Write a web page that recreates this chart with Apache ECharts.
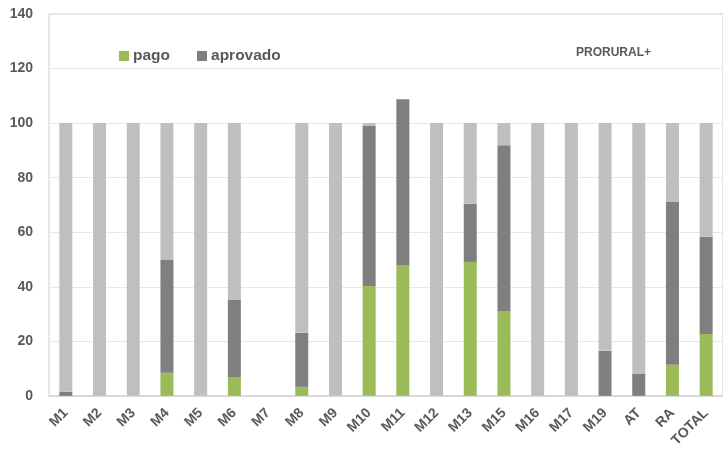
<!DOCTYPE html>
<html>
<head>
<meta charset="utf-8">
<script src="https://cdn.jsdelivr.net/npm/echarts@6/dist/echarts.min.js"></script>
<style>
html,body{margin:0;padding:0;background:#fff;}
#chart{width:723px;height:450px;}
</style>
</head>
<body>
<div id="chart"></div>
<script>
const categories = ['M1','M2','M3','M4','M5','M6','M7','M8','M9','M10','M11','M12','M13','M15','M16','M17','M19','AT','RA','TOTAL'];
const pago      = [0, 0, 0, 8.5, 0, 6.9, 0, 3.3, 0, 40.3, 48.0, 0, 49.1, 31.1, 0, 0, 0, 0, 11.4, 22.7];
const aprovado  = [1.5, 0, 0, 41.5, 0, 28.2, 0, 19.8, 0, 58.7, 60.7, 0, 21.3, 60.8, 0, 0, 16.5, 8.2, 59.7, 35.6];
const restante  = [98.5, 100, 100, 50, 100, 64.9, 0, 76.9, 100, 1.0, 0, 100, 29.6, 8.1, 100, 100, 83.5, 91.8, 28.9, 41.7];
const yTicks = { min: 0, max: 140, interval: 20 };

const font = 'Liberation Sans';
const txt = '#595959';
const chart = echarts.init(document.getElementById('chart'));
chart.setOption({
  animation: false,
  title: {
    text: 'PRORURAL+',
    left: 571, top: 42,
    textStyle: { fontFamily: font, fontSize: 12, fontWeight: 'bold', color: txt }
  },
  legend: {
    data: ['pago', 'aprovado'],
    left: 114, top: 43,
    itemWidth: 10, itemHeight: 10, itemGap: 27,
    icon: 'rect',
    textStyle: { fontFamily: font, fontSize: 15.5, fontWeight: 'bold', color: txt, padding: [0, 0, 0, -1] }
  },
  grid: {
    left: 49, right: -1, top: 14, bottom: 54,
    show: true, borderColor: '#cfcfcf', borderWidth: 1
  },
  xAxis: {
    type: 'category',
    data: categories,
    axisLine: { lineStyle: { color: '#d9d9d9', width: 2 } },
    axisTick: { show: false },
    axisLabel: {
      rotate: 45, interval: 0, margin: 15,
      fontFamily: font, fontSize: 14, fontWeight: 'bold', color: txt
    }
  },
  yAxis: {
    type: 'value',
    min: yTicks.min, max: yTicks.max, interval: yTicks.interval,
    axisLine: { show: false },
    axisTick: { show: false },
    splitLine: { lineStyle: { color: '#e8e8e8', width: 1 } },
    axisLabel: { margin: 16, fontFamily: font, fontSize: 14, fontWeight: 'bold', color: txt }
  },
  series: [
    { name: 'pago', type: 'bar', stack: 's', barWidth: 13, data: pago, itemStyle: { color: '#9BBB59' } },
    { name: 'aprovado', type: 'bar', stack: 's', barWidth: 13, data: aprovado, itemStyle: { color: '#7F7F7F' } },
    { name: 'restante', type: 'bar', stack: 's', barWidth: 13, data: restante, itemStyle: { color: '#BFBFBF' } }
  ]
});
</script>
</body>
</html>
